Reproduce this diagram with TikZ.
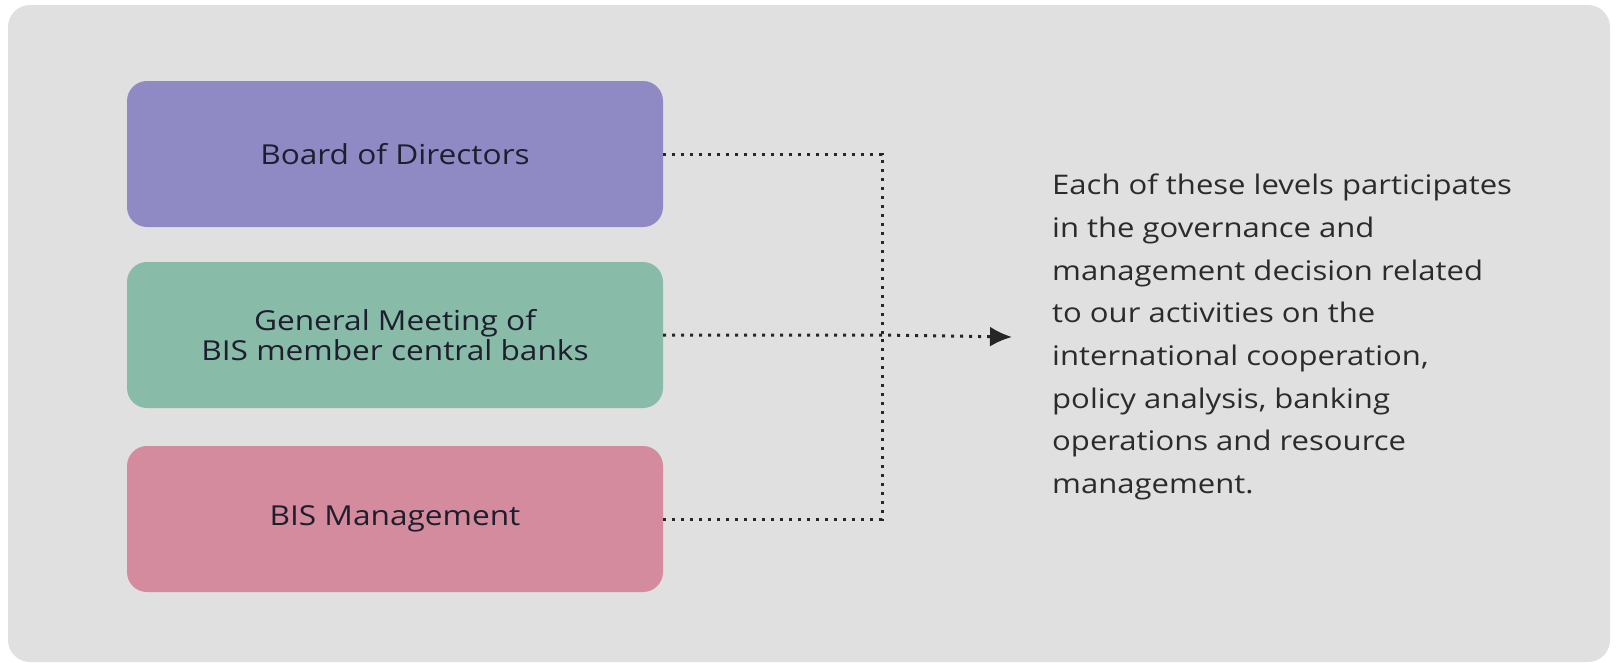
\documentclass[tikz,border=0pt]{standalone}
\usepackage{fontspec}
\setmainfont{Open Sans}[FakeStretch=1.15]
\usepackage{xcolor}
\usetikzlibrary{arrows.meta}

\definecolor{panelcol}{HTML}{E0E0E0}
\definecolor{boardcol}{HTML}{8F8AC4}
\definecolor{meetcol}{HTML}{88BBA8}
\definecolor{mgmtcol}{HTML}{D48B9D}
\definecolor{inkcol}{HTML}{2B2B2B}
\definecolor{boxink}{HTML}{1E1E2E}

\tikzset{
  level/.style={rounded corners=20pt, minimum width=536pt, minimum height=146pt,
    inner sep=0pt, text=boxink, align=center, font=\fontsize{27.5}{30}\selectfont},
  link/.style={line width=3pt, dash pattern=on 3pt off 6pt, color=black!85},
}

\begin{document}
\begin{tikzpicture}[x=1pt, y=-1pt]
  \useasboundingbox (0,0) rectangle (1616,662);
  \fill[panelcol, rounded corners=22pt] (8,5) rectangle (1610,662);
  % the three levels
  \node[level, fill=boardcol] (board) at (395,154) {Board of Directors};
  \node[level, fill=meetcol] (meeting) at (395,335) {General Meeting of\\BIS member central banks};
  \node[level, fill=mgmtcol] (mgmt) at (395,519) {BIS Management};
  \node[anchor=west, align=left, inner sep=0pt, text=inkcol,
    font=\fontsize{27}{42.7}\selectfont] (note) at (1052,337)
    {Each of these levels participates\\in the governance and\\management decision related\\to our activities on the\\international cooperation,\\policy analysis, banking\\operations and resource\\management.};
  \coordinate (joint) at (882,335);
  \foreach \src in {board, mgmt}
    \draw[link] (\src.east) -| (joint);
  \draw[link, -{Latex[length=22pt,width=20pt]}] (meeting.east) -- (joint) -- ([xshift=-40pt]note.west);
\end{tikzpicture}
\end{document}
